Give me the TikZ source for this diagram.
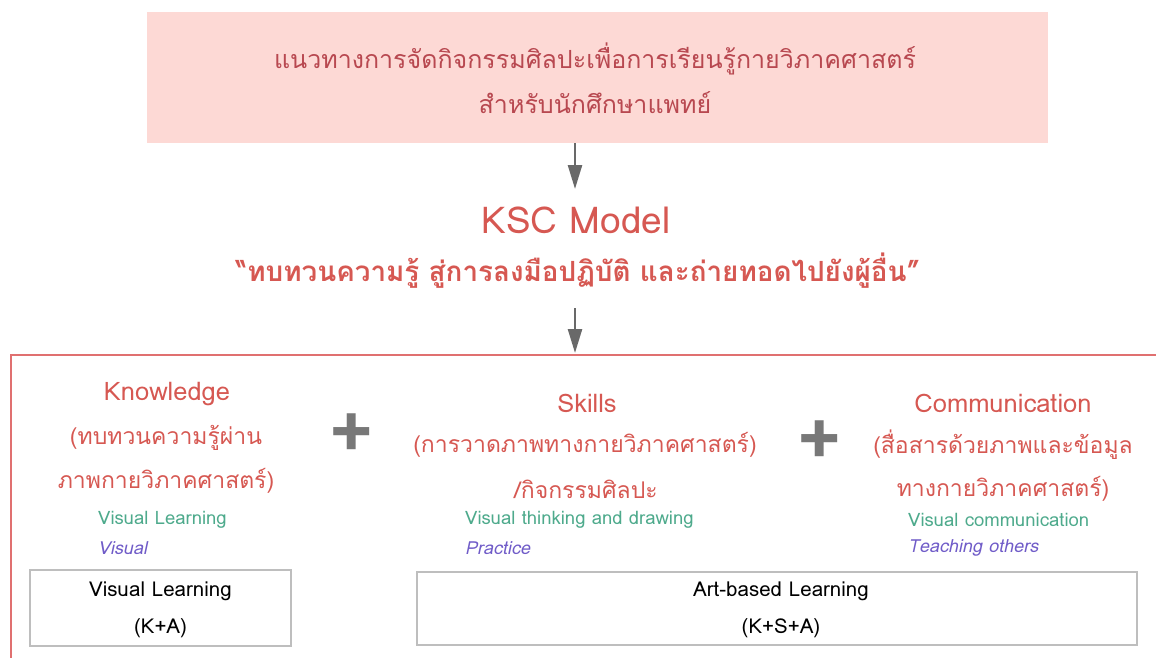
\documentclass[tikz,border=0pt]{standalone}
\usepackage{fontspec}
\setmainfont[Script=Thai]{Loma}
\usetikzlibrary{arrows.meta}
\definecolor{titlefill}{RGB}{253,217,213}
\definecolor{titletext}{RGB}{184,72,80}
\definecolor{kscred}{RGB}{214,88,82}
\definecolor{framered}{RGB}{224,112,112}
\definecolor{vgreen}{RGB}{78,170,140}
\definecolor{vpurple}{RGB}{112,92,200}
\definecolor{plusgray}{RGB}{120,120,120}
\definecolor{arrgray}{RGB}{105,105,105}
\definecolor{boxgray}{RGB}{190,190,190}
\tikzset{
  arr/.style={draw=arrgray, line width=2.5pt, -{Triangle[length=24pt,width=14pt]}},
  headtxt/.style={text=kscred, font=\fontsize{25.5}{30}\selectfont, inner sep=0pt},
  thaitxt/.style={text=kscred, font=\fontsize{23}{28}\selectfont, inner sep=0pt},
  greentxt/.style={text=vgreen, font=\fontsize{18.5}{22}\selectfont, inner sep=0pt, anchor=west},
  purpletxt/.style={text=vpurple, font=\fontsize{18}{22}\selectfont\itshape, inner sep=0pt, anchor=west},
  plussign/.style={text=plusgray, font=\bfseries\fontsize{76}{76}\selectfont, inner sep=0pt},
  resbox/.style={draw=boxgray, line width=1.2pt, fill=white, inner sep=0pt},
  restxt/.style={text=black, font=\fontsize{20.5}{24}\selectfont, inner sep=0pt}
}
\begin{document}
\begin{tikzpicture}[x=1pt,y=-1pt]
\useasboundingbox (0,0) rectangle (1156,657);
% title box
\node[fill=titlefill, minimum width=901pt, minimum height=131pt, inner sep=0pt] (title) at (597.5,77.5) {};
\node[text=titletext, font=\fontsize{25}{45}\selectfont, align=center, inner sep=0pt] (titletxt) at (595,78) {แนวทางการจัดกิจกรรมศิลปะเพื่อการเรียนรู้กายวิภาคศาสตร์\\สำหรับนักศึกษาแพทย์};
% KSC model
\node[text=kscred, font=\fontsize{37}{42}\selectfont, inner sep=0pt] (ksc) at (576,220) {KSC Model};
\node[text=kscred, font=\bfseries\fontsize{27.8}{32}\selectfont, inner sep=0pt] (quote) at (578,271) {“ทบทวนความรู้ สู่การลงมือปฏิบัติ และถ่ายทอดไปยังผู้อื่น”};
\coordinate (a1end) at (575,189);
\coordinate (a2start) at (575,308);
\coordinate (frametop) at (575,353);
\draw[arr] (title.south -| a1end) -- (a1end);
% frame
\draw[framered, line width=2pt] (1170,355) -- (11,355) -- (11,670);
\draw[arr] (a2start) -- (frametop);
% Knowledge column
\node[headtxt] (know) at (167,394) {Knowledge};
\node[thaitxt] (know1) at (166,438) {(ทบทวนความรู้ผ่าน};
\node[thaitxt] (know2) at (166,481) {ภาพกายวิภาคศาสตร์)};
\node[greentxt] (know3) at (98,520) {Visual Learning};
\node[purpletxt] (know4) at (98,548) {Visual};
% plus signs
\node[plussign] (plus1) at (352,436) {+};
\node[plussign] (plus2) at (820,443) {+};
% Skills column
\node[headtxt] (skill) at (587,403) {Skills};
\node[thaitxt] (skill1) at (585,445) {(การวาดภาพทางกายวิภาคศาสตร์)};
\node[thaitxt] (skill2) at (586,489) {/กิจกรรมศิลปะ};
\node[greentxt] (skill3) at (465,520) {Visual thinking and drawing};
\node[purpletxt] (skill4) at (465,548) {Practice};
% Communication column
\node[headtxt] (comm) at (1003,403) {Communication};
\node[thaitxt] (comm1) at (1003,445) {(สื่อสารด้วยภาพและข้อมูล};
\node[thaitxt] (comm2) at (1003,489) {ทางกายวิภาคศาสตร์)};
\node[greentxt] (comm3) at (908,520) {Visual communication};
\node[purpletxt] (comm4) at (908,548) {Teaching others};
% result boxes
\node[resbox, minimum width=261pt, minimum height=76pt] (box1) at (160.5,608) {};
\node[restxt] (box1a) at (160.5,591) {Visual Learning};
\node[restxt] (box1b) at (160.5,628) {(K+A)};
\node[resbox, minimum width=720pt, minimum height=73pt] (box2) at (777,608.5) {};
\node[restxt] (box2a) at (781,591) {Art-based Learning};
\node[restxt] (box2b) at (781,628) {(K+S+A)};
\end{tikzpicture}
\end{document}
